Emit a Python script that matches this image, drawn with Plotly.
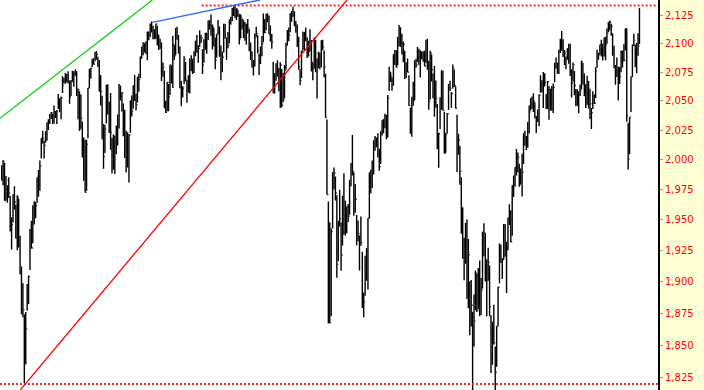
import math
import plotly.graph_objects as go

# S&P 500 daily bars, 23 Sep 2014 .. 8 Jul 2016 (one line per month)
high = [
    1995.4, 1999.8, 1997.3, 1986.4, 1978.6, 1985.2,
    1969.8, 1952.3, 1971.2, 1977.8, 1962.4, 1970.4, 1967.7, 1937.0, 1912.1, 1898.7, 1874.1, 1876.0, 1898.2, 1905.0, 1942.5, 1949.3, 1962.0, 1965.3, 1964.6, 1985.1, 1991.4, 1999.4, 2018.2,
    2024.5, 2016.0, 2023.8, 2031.6, 2034.3, 2038.7, 2040.6, 2038.7, 2046.2, 2041.3, 2042.2, 2056.1, 2052.1, 2053.8, 2071.5, 2070.2, 2074.2, 2073.4, 2075.8,
    2067.0, 2068.2, 2076.3, 2075.8, 2077.3, 2075.8, 2060.6, 2058.5, 2055.5, 2032.3, 2018.7, 2016.9, 2016.8, 2061.2, 2077.9, 2078.8, 2086.7, 2087.4, 2092.7, 2093.6, 2088.5, 2085.6,
    2072.4, 2054.4, 2030.3, 2029.6, 2064.1, 2064.4, 2049.3, 2056.9, 2018.4, 2021.4, 2020.5, 2028.9, 2038.3, 2064.6, 2063.0, 2057.6, 2047.9, 2042.5, 2024.6, 2023.3,
    2021.7, 2050.3, 2054.7, 2063.6, 2072.4, 2056.2, 2070.9, 2073.5, 2088.5, 2097.0, 2101.3, 2100.2, 2102.1, 2110.6, 2110.1, 2117.9, 2119.6, 2115.8, 2112.7,
    2117.5, 2115.8, 2107.7, 2104.3, 2100.9, 2083.5, 2076.2, 2050.1, 2066.4, 2064.6, 2081.4, 2080.6, 2106.9, 2098.7, 2113.9, 2114.9, 2107.6, 2097.4, 2067.2, 2062.8, 2089.0, 2084.1,
    2067.9, 2072.2, 2087.0, 2089.8, 2086.7, 2093.3, 2102.6, 2107.7, 2098.6, 2111.9, 2107.9, 2095.1, 2103.9, 2109.6, 2109.6, 2120.5, 2120.9, 2125.9, 2116.9, 2113.8, 2105.5,
    2108.4, 2121.0, 2115.2, 2098.4, 2092.9, 2117.7, 2117.7, 2105.1, 2110.2, 2121.5, 2123.9, 2131.8, 2133.0, 2134.7, 2131.3, 2129.9, 2126.2, 2126.2, 2122.3, 2120.7,
    2119.1, 2117.6, 2121.9, 2112.9, 2101.0, 2093.0, 2085.7, 2109.0, 2115.0, 2107.4, 2091.2, 2097.4, 2106.8, 2126.7, 2121.9, 2126.6, 2127.0, 2125.1, 2116.0, 2108.6, 2084.0, 2074.3,
    2082.8, 2085.4, 2078.6, 2083.7, 2077.7, 2074.3, 2081.3, 2100.7, 2112.0, 2114.2, 2126.9, 2129.0, 2132.8, 2128.6, 2120.0, 2116.9, 2106.0, 2077.5, 2094.0, 2110.6, 2110.5, 2114.2,
    2105.7, 2102.5, 2112.7, 2103.3, 2082.9, 2105.4, 2103.2, 2087.0, 2092.9, 2092.1, 2102.9, 2103.5, 2094.0, 2073.6, 2034.1, 1965.1, 1948.0, 1943.1, 1989.6, 1993.5, 1986.0,
    1970.4, 1948.9, 1975.0, 1947.8, 1970.0, 1988.6, 1965.7, 1961.1, 1963.1, 1983.2, 1997.3, 2020.9, 1989.4, 1979.6, 1954.0, 1949.5, 1937.2, 1952.9, 1924.0, 1891.4, 1920.9,
    1927.2, 1951.4, 1989.5, 1991.6, 1999.3, 2016.5, 2020.1, 2018.7, 2022.3, 2009.3, 2024.0, 2033.5, 2034.5, 2039.1, 2038.2, 2055.2, 2079.7, 2075.1, 2070.4, 2090.4, 2094.3, 2094.3,
    2106.2, 2116.5, 2114.6, 2108.8, 2101.9, 2093.8, 2083.7, 2086.9, 2072.3, 2044.1, 2053.2, 2066.7, 2085.3, 2086.7, 2097.1, 2095.6, 2094.1, 2093.0, 2093.3, 2093.8,
    2103.4, 2104.3, 2085.0, 2093.8, 2090.4, 2073.9, 2080.3, 2067.7, 2047.3, 2022.9, 2053.2, 2076.7, 2076.4, 2040.8, 2022.9, 2039.7, 2064.7, 2067.4, 2057.8, 2081.6, 2077.3, 2062.5,
    2038.2, 2021.9, 2011.7, 1985.3, 1960.4, 1935.7, 1947.4, 1950.3, 1934.5, 1900.3, 1901.4, 1876.1, 1889.9, 1908.9, 1906.3, 1911.0, 1917.0, 1903.0, 1940.2,
    1947.2, 1939.4, 1918.0, 1927.4, 1913.1, 1873.5, 1868.3, 1881.6, 1849.0, 1864.8, 1896.0, 1930.7, 1930.0, 1918.8, 1946.7, 1946.7, 1932.1, 1951.8, 1963.0, 1958.0,
    1978.4, 1986.5, 1993.7, 2009.1, 2006.1, 1996.7, 1992.7, 2005.1, 2022.4, 2024.6, 2020.0, 2032.0, 2046.1, 2052.4, 2053.9, 2056.6, 2048.8, 2037.0, 2042.7, 2055.9, 2072.2, 2067.9,
    2075.1, 2074.0, 2056.0, 2067.3, 2062.9, 2060.6, 2062.9, 2065.1, 2083.2, 2087.8, 2083.2, 2094.7, 2104.4, 2111.1, 2103.9, 2094.3, 2088.6, 2096.0, 2099.9, 2099.9, 2077.5,
    2083.4, 2076.1, 2060.3, 2060.2, 2058.3, 2064.2, 2084.9, 2083.3, 2073.9, 2064.2, 2071.9, 2067.2, 2060.6, 2044.0, 2058.4, 2055.6, 2079.2, 2094.7, 2092.0, 2099.1, 2103.5,
    2100.0, 2105.3, 2106.0, 2113.4, 2119.2, 2120.6, 2117.6, 2109.1, 2098.1, 2081.3, 2087.7, 2079.6, 2079.6, 2093.9, 2093.9, 2099.4, 2113.3, 2113.3, 2031.4, 2036.1, 2071.5, 2098.9,
    2108.7, 2099.3, 2100.7, 2109.1, 2131.7,
]

low = [
    1982.8, 1978.6, 1966.0, 1966.0, 1964.1, 1968.0,
    1940.5, 1926.0, 1948.0, 1958.4, 1934.9, 1925.3, 1927.6, 1906.1, 1874.1, 1871.8, 1820.7, 1835.0, 1877.0, 1882.3, 1909.4, 1926.8, 1931.0, 1946.3, 1951.4, 1964.1, 1969.0, 1974.0, 2001.0,
    2013.7, 2001.0, 2014.4, 2015.9, 2025.1, 2030.2, 2034.5, 2030.2, 2030.4, 2035.3, 2030.3, 2043.1, 2040.4, 2034.4, 2056.8, 2065.1, 2064.8, 2066.0, 2065.1,
    2047.6, 2054.3, 2066.7, 2062.3, 2071.9, 2054.3, 2034.2, 2024.3, 2026.4, 2002.3, 1982.3, 1972.6, 1974.1, 2018.1, 2061.0, 2069.3, 2079.5, 2081.9, 2084.5, 2085.8, 2079.5, 2057.9,
    2046.0, 2017.3, 1992.4, 2005.6, 2030.6, 2038.3, 2022.6, 2008.3, 1988.4, 1991.5, 1988.1, 2004.5, 2012.0, 2026.4, 2050.5, 2041.0, 2019.9, 2001.5, 1989.2, 1993.4,
    1980.9, 2022.7, 2036.7, 2043.5, 2050.0, 2041.9, 2048.6, 2058.0, 2070.0, 2086.7, 2089.8, 2092.2, 2090.8, 2085.4, 2103.0, 2105.9, 2109.9, 2103.8, 2103.8,
    2104.5, 2098.3, 2094.5, 2095.2, 2067.3, 2071.1, 2044.2, 2039.7, 2041.2, 2041.2, 2055.1, 2065.1, 2061.2, 2085.6, 2090.3, 2103.4, 2091.5, 2061.1, 2045.5, 2053.0, 2064.6, 2067.0,
    2048.4, 2057.3, 2056.5, 2076.1, 2073.3, 2074.3, 2088.9, 2092.3, 2083.2, 2097.0, 2100.5, 2073.3, 2083.3, 2094.4, 2091.1, 2103.2, 2112.8, 2107.0, 2094.9, 2097.4, 2077.6,
    2087.6, 2108.4, 2088.5, 2067.9, 2075.0, 2092.1, 2104.6, 2085.6, 2096.0, 2100.4, 2116.8, 2120.0, 2124.5, 2122.6, 2120.9, 2123.8, 2099.2, 2105.1, 2112.8, 2104.9,
    2102.5, 2099.1, 2109.6, 2093.2, 2085.7, 2079.1, 2072.1, 2080.2, 2106.1, 2091.3, 2072.5, 2082.1, 2088.9, 2101.4, 2109.1, 2111.9, 2119.0, 2108.6, 2101.8, 2095.4, 2056.6, 2056.2,
    2067.5, 2071.0, 2058.4, 2044.0, 2044.7, 2049.0, 2052.4, 2077.0, 2098.2, 2102.1, 2110.1, 2119.4, 2123.7, 2115.4, 2109.6, 2097.0, 2077.1, 2063.5, 2070.0, 2094.1, 2094.1, 2102.1,
    2087.3, 2088.6, 2093.3, 2075.5, 2067.9, 2078.0, 2075.0, 2052.1, 2078.3, 2077.6, 2079.3, 2094.1, 2070.5, 2035.7, 1970.9, 1867.0, 1867.1, 1872.8, 1942.9, 1975.2, 1966.0,
    1903.1, 1916.5, 1944.7, 1908.8, 1929.2, 1937.9, 1937.2, 1939.2, 1948.3, 1954.3, 1977.9, 1986.7, 1953.5, 1955.8, 1929.1, 1932.6, 1908.9, 1928.9, 1879.2, 1871.9, 1888.9,
    1900.7, 1893.7, 1951.4, 1972.0, 1976.4, 1987.5, 2007.6, 2010.6, 2001.8, 1990.7, 1996.5, 2020.5, 2022.3, 2026.6, 2017.2, 2019.0, 2058.8, 2066.5, 2058.8, 2063.1, 2081.2, 2079.3,
    2080.8, 2097.5, 2097.0, 2090.4, 2083.7, 2069.1, 2069.9, 2074.9, 2045.7, 2022.0, 2019.4, 2045.9, 2050.8, 2078.8, 2083.8, 2081.4, 2070.3, 2086.3, 2084.1, 2080.4,
    2082.9, 2077.1, 2042.4, 2051.2, 2066.8, 2052.3, 2036.5, 2044.1, 2008.8, 1993.3, 2025.9, 2042.4, 2041.7, 2005.3, 2005.9, 2022.1, 2042.2, 2058.7, 2044.2, 2060.7, 2062.0, 2043.6,
    1989.7, 2004.2, 1979.1, 1938.8, 1918.5, 1901.1, 1914.4, 1886.3, 1878.9, 1857.8, 1864.6, 1812.3, 1849.0, 1877.4, 1876.0, 1878.1, 1872.7, 1873.7, 1894.6,
    1920.3, 1900.2, 1872.7, 1900.5, 1872.7, 1828.5, 1834.9, 1850.3, 1810.1, 1833.2, 1864.8, 1898.8, 1915.1, 1902.2, 1917.8, 1920.0, 1891.0, 1925.4, 1945.8, 1931.8,
    1937.1, 1968.8, 1977.4, 1986.8, 1989.4, 1977.4, 1979.8, 1969.3, 1996.3, 2011.8, 2008.2, 2010.0, 2022.2, 2041.7, 2043.1, 2040.6, 2034.9, 2022.5, 2031.9, 2028.3, 2057.2, 2057.5,
    2044.0, 2062.6, 2043.1, 2043.1, 2033.8, 2041.7, 2041.9, 2039.7, 2066.3, 2078.1, 2073.7, 2073.3, 2091.7, 2093.8, 2088.2, 2081.2, 2077.5, 2085.8, 2082.3, 2071.6, 2053.1,
    2066.8, 2054.9, 2045.5, 2045.8, 2039.5, 2054.3, 2059.9, 2064.5, 2054.1, 2043.9, 2046.9, 2043.6, 2034.5, 2025.9, 2043.0, 2047.3, 2052.6, 2078.9, 2085.9, 2090.3, 2088.7,
    2085.1, 2088.6, 2085.4, 2100.0, 2110.4, 2112.2, 2107.0, 2089.4, 2078.5, 2064.1, 2070.7, 2050.4, 2064.6, 2074.9, 2079.1, 2084.4, 2094.0, 2032.1, 1991.7, 2004.6, 2040.6, 2071.0,
    2097.9, 2079.3, 2074.0, 2089.4, 2099.7,
]

close = [
    1982.8, 1998.3, 1966.0, 1982.9, 1977.8, 1972.3,
    1946.2, 1946.2, 1967.9, 1964.8, 1935.1, 1968.9, 1928.2, 1906.1, 1874.7, 1877.7, 1862.5, 1862.8, 1886.8, 1904.0, 1941.3, 1927.1, 1950.8, 1964.6, 1961.6, 1985.1, 1982.3, 1994.7, 2018.1,
    2017.8, 2012.1, 2023.6, 2031.2, 2032.0, 2038.3, 2039.7, 2038.3, 2039.3, 2039.8, 2041.3, 2051.8, 2048.7, 2052.8, 2063.5, 2069.4, 2067.0, 2072.8, 2067.6,
    2053.4, 2066.6, 2074.3, 2071.9, 2075.4, 2060.3, 2059.8, 2026.1, 2035.3, 2002.3, 1989.6, 1972.7, 2012.9, 2061.2, 2070.7, 2078.5, 2082.2, 2081.9, 2088.8, 2090.6, 2080.4, 2058.9,
    2058.2, 2020.6, 2002.6, 2025.9, 2062.1, 2044.8, 2028.3, 2023.0, 2011.3, 1992.7, 2019.4, 2022.6, 2032.1, 2063.2, 2051.8, 2057.1, 2029.6, 2002.2, 2021.3, 1995.0,
    2020.9, 2050.0, 2041.5, 2062.5, 2055.5, 2046.7, 2068.6, 2068.5, 2088.5, 2097.0, 2100.3, 2099.7, 2097.5, 2110.3, 2109.7, 2115.5, 2113.9, 2110.7, 2104.5,
    2117.4, 2107.8, 2098.5, 2101.0, 2071.3, 2079.4, 2044.2, 2040.2, 2066.0, 2053.4, 2081.2, 2074.3, 2099.5, 2089.3, 2108.1, 2104.4, 2091.5, 2061.1, 2056.2, 2061.0, 2086.2, 2067.9,
    2059.7, 2067.0, 2080.6, 2076.3, 2081.9, 2091.2, 2102.1, 2092.4, 2095.8, 2106.6, 2105.0, 2081.2, 2100.4, 2097.3, 2108.0, 2112.9, 2117.7, 2108.9, 2114.8, 2106.9, 2085.5,
    2108.3, 2114.5, 2089.5, 2080.2, 2088.0, 2116.1, 2105.3, 2099.9, 2098.5, 2121.1, 2122.7, 2129.2, 2127.8, 2125.9, 2130.8, 2126.1, 2104.2, 2123.5, 2120.8, 2107.4,
    2111.7, 2109.6, 2114.1, 2095.8, 2092.8, 2079.3, 2080.2, 2105.2, 2108.9, 2094.1, 2084.4, 2096.3, 2100.4, 2121.2, 2110.0, 2122.9, 2124.2, 2108.6, 2102.3, 2101.5, 2057.6, 2063.1,
    2077.4, 2076.8, 2068.8, 2081.3, 2046.7, 2051.3, 2076.6, 2099.6, 2109.0, 2107.4, 2124.3, 2126.6, 2128.3, 2119.2, 2114.2, 2102.2, 2079.7, 2067.6, 2093.3, 2108.6, 2108.6, 2103.8,
    2098.0, 2093.3, 2099.8, 2083.6, 2077.6, 2104.2, 2084.1, 2086.1, 2083.4, 2091.5, 2102.4, 2096.9, 2079.6, 2035.7, 1970.9, 1893.2, 1867.6, 1940.5, 1987.7, 1988.9, 1972.2,
    1913.9, 1948.9, 1951.1, 1921.2, 1969.4, 1942.0, 1952.3, 1961.1, 1953.0, 1978.1, 1995.3, 1990.2, 1958.0, 1967.0, 1942.7, 1938.8, 1932.2, 1931.3, 1881.8, 1884.1, 1920.0,
    1923.8, 1951.4, 1987.1, 1979.9, 1995.8, 2013.4, 2014.9, 2017.5, 2003.7, 1994.2, 2023.9, 2033.1, 2033.7, 2030.8, 2018.9, 2052.5, 2075.2, 2071.2, 2065.9, 2090.4, 2089.4, 2079.4,
    2104.1, 2109.8, 2102.3, 2099.9, 2099.2, 2078.6, 2081.7, 2075.0, 2046.0, 2023.0, 2053.2, 2050.4, 2083.6, 2081.2, 2089.2, 2086.6, 2089.1, 2088.9, 2090.1, 2080.4,
    2102.6, 2079.5, 2049.6, 2091.7, 2077.1, 2063.6, 2047.6, 2052.2, 2012.4, 2021.9, 2043.4, 2073.1, 2041.9, 2005.6, 2021.2, 2039.0, 2064.3, 2061.0, 2056.5, 2078.4, 2063.4, 2043.9,
    2012.7, 2016.7, 1990.3, 1943.1, 1922.0, 1923.7, 1938.7, 1890.3, 1921.8, 1880.3, 1881.3, 1859.3, 1869.0, 1906.9, 1877.1, 1903.6, 1883.0, 1893.4, 1940.2,
    1939.4, 1903.0, 1912.5, 1915.5, 1880.1, 1853.4, 1852.2, 1851.9, 1829.1, 1864.8, 1895.6, 1926.8, 1917.8, 1917.8, 1945.5, 1921.3, 1929.8, 1951.7, 1948.1, 1932.2,
    1978.4, 1986.5, 1993.4, 2000.0, 2001.8, 1979.3, 1989.3, 1989.6, 2022.2, 2019.6, 2015.9, 2027.2, 2040.6, 2049.6, 2051.6, 2049.8, 2036.7, 2035.9, 2037.1, 2055.0, 2064.0, 2059.7,
    2072.8, 2066.1, 2045.2, 2066.7, 2041.9, 2047.6, 2042.0, 2061.7, 2082.4, 2082.8, 2080.7, 2094.3, 2100.8, 2102.4, 2091.5, 2091.6, 2087.8, 2091.7, 2095.2, 2075.8, 2065.3,
    2081.4, 2063.4, 2051.1, 2050.6, 2057.1, 2058.7, 2084.4, 2064.5, 2064.1, 2046.6, 2066.7, 2047.2, 2047.6, 2040.0, 2052.3, 2048.0, 2076.1, 2090.5, 2090.1, 2099.1, 2097.0,
    2099.3, 2105.3, 2099.1, 2109.4, 2112.1, 2119.1, 2115.5, 2096.1, 2079.1, 2075.3, 2071.5, 2078.0, 2071.2, 2083.3, 2088.9, 2085.5, 2113.3, 2037.4, 2000.5, 2036.1, 2070.8, 2098.9,
    2103.0, 2088.6, 2099.7, 2097.9, 2129.9,
]

first_open = 1992.3

# price-axis tick values
tick_values = [1825, 1850, 1875, 1900, 1925, 1950, 1975, 2000, 2025, 2050, 2075, 2100, 2125]

# drawn levels and trendlines (bar index, price)
resistance_level = 2134.0
resistance_start = 141.4
support_level = 1820.0
red_trend = ([13.2, 244.2], [1815.5, 2138.9])
green_trend = ([-1.2, 106.6], [2035.1, 2138.9])
blue_trend = ([106.5, 182.7], [2118.9, 2138.9])

x_range = [-1.2, 464.1]
y_range = [1815.45, 2138.89]

n = len(high)
assert len(low) == n and len(close) == n
idx = list(range(n))
opn = [first_open] + close[:-1]

fig = go.Figure()
fig.add_trace(go.Ohlc(
    x=idx, open=opn, high=high, low=low, close=close,
    increasing=dict(line=dict(color="black", width=1.4)),
    decreasing=dict(line=dict(color="black", width=1.4)),
    tickwidth=0.5, hoverinfo="skip", showlegend=False,
))

def line(xs, ys, color, width=1, dash=None):
    fig.add_trace(go.Scatter(
        x=xs, y=ys, mode="lines", hoverinfo="skip", showlegend=False,
        line=dict(color=color, width=width, dash=dash),
    ))

line([resistance_start, x_range[1]], [resistance_level, resistance_level], "#ff2222", 2, "2px,2px")
line([x_range[0], x_range[1]], [support_level, support_level], "#ff2222", 2, "2px,2px")
line(*red_trend, "#ff0000", 1.3)
line(*green_trend, "#11cc11", 1.3)
line(*blue_trend, "#3366ff", 1.4)

fig.update_layout(
    width=704, height=390, autosize=False,
    margin=dict(l=0, r=46, t=0, b=0, pad=0),
    paper_bgcolor="#ffffd6",
    plot_bgcolor="#ffffff",
    showlegend=False,
    xaxis=dict(range=x_range, visible=False, rangeslider=dict(visible=False),
               showgrid=False, zeroline=False, fixedrange=True),
    yaxis=dict(
        type="log",
        range=[math.log10(y_range[0]), math.log10(y_range[1])],
        side="right",
        tickmode="array",
        tickvals=tick_values,
        ticktext=[f"{v:,}" for v in tick_values],
        ticks="outside", ticklen=3, tickcolor="#999999", tickwidth=1,
        tickfont=dict(family="DejaVu Sans", size=10, color="#ff0000"),
        showgrid=False, zeroline=False,
        showline=True, linecolor="black", linewidth=2,
        fixedrange=True,
    ),
)

fig.write_html("out.html", config={"displayModeBar": False})
